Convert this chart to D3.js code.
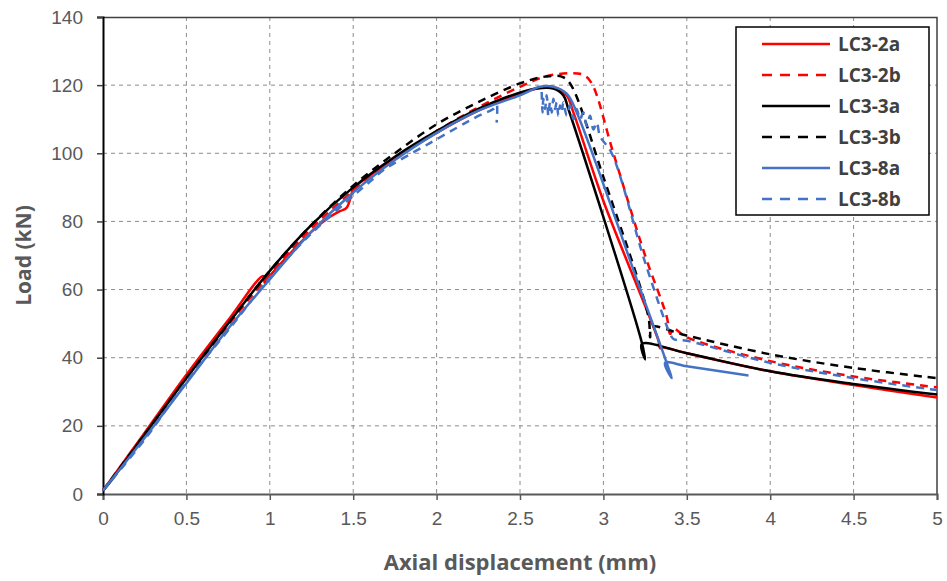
<!DOCTYPE html>
<html>
<head>
<meta charset="utf-8">
<script src="https://cdn.jsdelivr.net/npm/d3@7"></script>
<style>
  body { margin: 0; background: #fff; }
  svg { display: block; font-family: 'Open Sans', sans-serif; }
</style>
</head>
<body>
<div id="chart"></div>
<script>
// Tick values
const xTicks = [0, 0.5, 1, 1.5, 2, 2.5, 3, 3.5, 4, 4.5, 5];
const yTicks = [0, 20, 40, 60, 80, 100, 120, 140];

// LC3-2a (red, solid)
const lc32aX = [0, 0.25, 0.5, 0.75, 0.96, 0.97, 1.0, 1.25, 1.35, 1.42, 1.46, 1.49, 1.5, 1.75, 2.0, 2.25, 2.45, 2.6, 2.7, 2.78, 2.82, 3.0, 3.33, 3.34, 3.36, 3.5, 4.0, 4.5, 5.0];
const lc32aY = [1, 18, 35, 51, 64, 62, 64, 77, 81, 83, 84, 88, 89.5, 98.5, 106, 112.5, 116.5, 119, 119.5, 117, 112, 86, 45, 42.8, 43, 41.3, 36, 32, 28.3];

// LC3-2b (red, dashed)
const lc32bX = [0, 0.25, 0.5, 0.75, 1.0, 1.25, 1.5, 1.75, 2.0, 2.25, 2.5, 2.65, 2.8, 2.88, 2.93, 3.06, 3.25, 3.38, 3.40, 3.42, 3.5, 4.0, 4.5, 5.0];
const lc32bY = [1, 17, 33.5, 49.5, 64.5, 78, 89, 98.5, 106.5, 113.5, 119.5, 122.5, 123.5, 123, 120.5, 100, 70, 52, 47, 48.5, 46, 39, 34.5, 31.3];

// LC3-3a (black, solid)
const lc33aX = [0, 0.05, 0.25, 0.5, 0.75, 1.0, 1.25, 1.5, 1.75, 2.0, 2.25, 2.45, 2.6, 2.7, 2.76, 2.79, 3.23, 3.25, 3.23, 3.5, 4.0, 4.5, 5.0];
const lc33aY = [1, 4, 17.5, 34, 50, 65.5, 79, 90, 99, 106.5, 113, 117, 119, 119, 117, 113, 44.5, 39.5, 44, 41.3, 36, 32.3, 29.2];

// LC3-3b (black, dashed)
const lc33bX = [0, 0.25, 0.5, 0.75, 1.0, 1.25, 1.5, 1.75, 2.0, 2.25, 2.5, 2.65, 2.75, 2.8, 3.0, 3.27, 3.28, 3.29, 3.5, 4.0, 4.5, 5.0];
const lc33bY = [1, 17.5, 34, 50, 65.5, 79, 90.5, 100, 108.5, 115, 120.5, 122.5, 122.5, 120.5, 93, 52, 46, 49, 46.5, 41, 37, 34];

// LC3-8a (blue, solid)
const lc38aX = [0, 0.25, 0.5, 0.75, 1.0, 1.25, 1.5, 1.75, 2.0, 2.25, 2.5, 2.62, 2.7, 2.78, 2.84, 3.2, 3.41, 3.37, 3.5, 3.87];
const lc38aY = [1, 16.5, 32.5, 48.5, 63, 77, 88.5, 98, 106, 112.5, 117, 119.5, 119.5, 117.5, 112, 63, 34, 38.5, 37.5, 34.8];

// LC3-8b (blue, dashed) - null marks the gap in the record
const lc38bX = [0, 0.25, 0.5, 0.75, 1.0, 1.25, 1.5, 1.62, 1.68, 1.96, 2.26, 2.34, 2.36, 2.36, 2.5,
  2.63, 2.635, 2.64, 2.65, 2.66, 2.67, 2.68, 2.69, 2.70, 2.71, 2.72, 2.73, 2.74, 2.75, 2.76, 2.78, 2.80, 2.82, 2.84, 2.86, 2.88, 2.90, 2.92, 2.94, 2.96, 2.98,
  3.05, 3.25, 3.4, 3.42, 3.5, 4.0, 4.5, 5.0];
const lc38bY = [1, 16, 33, 48, 63.5, 76.5, 87.5, 92.5, 95, 103, 111.2, 113, 114.3, 109, null,
  118, 112, 116, 113, 117, 111, 115, 112, 116, 113, 115, 111, 114, 112, 115, 111, 114, 110, 113, 110, 112, 108, 111, 107, 109, 105,
  100, 68, 47, 45.5, 45, 38.5, 34, 30.5];

const seriesNames = ['LC3-2a', 'LC3-2b', 'LC3-3a', 'LC3-3b', 'LC3-8a', 'LC3-8b'];
const seriesX = [lc32aX, lc32bX, lc33aX, lc33bX, lc38aX, lc38bX];
const seriesY = [lc32aY, lc32bY, lc33aY, lc33bY, lc38aY, lc38bY];
const seriesColors = ['#ff0000', '#ff0000', '#000000', '#000000', '#4472c4', '#4472c4'];
const seriesDashed = [false, true, false, true, false, true];

// Layout
const W = 947, H = 581;
const margin = { top: 17, right: 10, bottom: 87, left: 103 };
const width = W - margin.left - margin.right;
const height = H - margin.top - margin.bottom;

const root = d3.select('#chart').append('svg')
    .attr('width', W)
    .attr('height', H);

const svg = root.append('g')
    .attr('transform', `translate(${margin.left},${margin.top})`);

// Scales
const x = d3.scaleLinear().domain([0, 5]).range([0, width]);
const y = d3.scaleLinear().domain([0, 140]).range([height, 0]);

// Grid lines
svg.append('g')
    .attr('class', 'grid-x')
    .selectAll('line')
    .data(xTicks.filter(d => d > 0 && d < 5))
    .enter()
    .append('line')
    .attr('x1', d => x(d))
    .attr('x2', d => x(d))
    .attr('y1', 0)
    .attr('y2', height)
    .attr('stroke', '#8c8c8c')
    .attr('stroke-width', 1)
    .attr('stroke-dasharray', '4,4');

svg.append('g')
    .attr('class', 'grid-y')
    .selectAll('line')
    .data(yTicks.filter(d => d > 0 && d < 140))
    .enter()
    .append('line')
    .attr('x1', 0)
    .attr('x2', width)
    .attr('y1', d => y(d))
    .attr('y2', d => y(d))
    .attr('stroke', '#8c8c8c')
    .attr('stroke-width', 1)
    .attr('stroke-dasharray', '4,4');

// Plot area border (top and right)
svg.append('path')
    .attr('d', `M0,0.5H${width}V${height}`)
    .attr('fill', 'none')
    .attr('stroke', '#404040')
    .attr('stroke-width', 1.5);

// X axis
const xAxis = svg.append('g')
    .attr('class', 'x-axis')
    .attr('transform', `translate(0,${height})`)
    .call(d3.axisBottom(x)
        .tickValues(xTicks)
        .tickSize(6)
        .tickPadding(12)
        .tickFormat(d => d3.format('')(d)));
xAxis.select('.domain').attr('stroke', '#595959').attr('stroke-width', 2);
xAxis.selectAll('.tick line').attr('stroke', '#595959').attr('stroke-width', 1.5);
xAxis.selectAll('text')
    .style('font-size', '19px')
    .style('fill', '#595959');

// Y axis
const yAxis = svg.append('g')
    .attr('class', 'y-axis')
    .call(d3.axisLeft(y)
        .tickValues(yTicks)
        .tickSize(6)
        .tickPadding(14));
yAxis.select('.domain').attr('stroke', '#000').attr('stroke-width', 2);
yAxis.selectAll('.tick line').attr('stroke', '#404040').attr('stroke-width', 1.5);
yAxis.selectAll('text')
    .style('font-size', '19px')
    .style('fill', '#595959');

// Axis titles
svg.append('text')
    .attr('x', width / 2)
    .attr('y', height + 76)
    .attr('text-anchor', 'middle')
    .style('font-size', '22px')
    .style('font-weight', 'bold')
    .style('fill', '#595959')
    .text('Axial displacement (mm)');

svg.append('text')
    .attr('transform', 'rotate(-90)')
    .attr('x', -height / 2)
    .attr('y', -72)
    .attr('text-anchor', 'middle')
    .style('font-size', '21px')
    .style('font-weight', 'bold')
    .style('fill', '#595959')
    .text('Load (kN)');

// Line generator (centripetal Catmull-Rom keeps the smooth Excel look without loops)
const line = d3.line()
    .defined(d => d[1] !== null)
    .x(d => x(d[0]))
    .y(d => y(d[1]))
    .curve(d3.curveCatmullRom.alpha(0.5));

// Draw series
seriesNames.forEach((name, i) => {
    const pts = seriesX[i].map((v, j) => [v, seriesY[i][j]]);
    svg.append('path')
        .datum(pts)
        .attr('class', `line-path line-path-${i}`)
        .attr('d', line)
        .attr('fill', 'none')
        .attr('stroke', seriesColors[i])
        .attr('stroke-width', 2.5)
        .attr('stroke-linejoin', 'round')
        .attr('stroke-dasharray', seriesDashed[i] ? '8,6' : null);
});

// Legend
const legend = root.append('g')
    .attr('class', 'chart-legend')
    .attr('transform', 'translate(736,27)');

legend.append('rect')
    .attr('width', 193)
    .attr('height', 188)
    .attr('fill', '#fff')
    .attr('stroke', '#000')
    .attr('stroke-width', 1.5);

seriesNames.forEach((name, i) => {
    const item = legend.append('g')
        .attr('transform', `translate(0, ${17 + i * 31})`);

    item.append('line')
        .attr('x1', 26)
        .attr('x2', 94)
        .attr('stroke', seriesColors[i])
        .attr('stroke-width', 2.5)
        .attr('stroke-dasharray', seriesDashed[i] ? '10,8' : null);

    item.append('text')
        .attr('x', 102)
        .attr('y', 7)
        .style('font-size', '19px')
        .style('font-weight', 'bold')
        .style('fill', '#404040')
        .text(name);
});
</script>
</body>
</html>
